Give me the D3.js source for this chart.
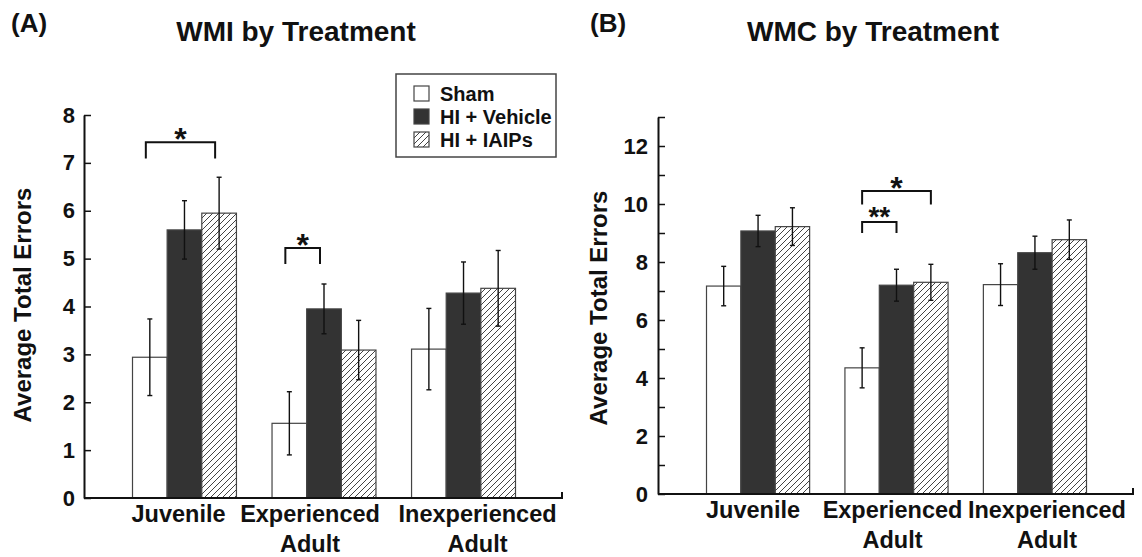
<!DOCTYPE html>
<html>
<head>
<meta charset="utf-8">
<script src="https://cdn.jsdelivr.net/npm/d3@7"></script>
<style>
    body { margin: 0; background: #fff; }
    text { font-family: "Liberation Sans", Arial, sans-serif; font-weight: bold; fill: #111; }
</style>
</head>
<body>
<svg id="chart" width="1142" height="557"></svg>
<script>
// Categories and series
const categories = ["Juvenile", "Experienced Adult", "Inexperienced Adult"];
const categoryLines = [["Juvenile"], ["Experienced", "Adult"], ["Inexperienced", "Adult"]];
const groups = ["Sham", "HI + Vehicle", "HI + IAIPs"];

// Panel A: WMI, mean and error
const wmiSham = [2.94, 1.56, 3.11];
const wmiVehicle = [5.60, 3.95, 4.28];
const wmiIAIPs = [5.95, 3.09, 4.38];
const wmiShamErr = [0.80, 0.66, 0.85];
const wmiVehicleErr = [0.61, 0.52, 0.65];
const wmiIAIPsErr = [0.75, 0.62, 0.79];
const wmiTicks = [0, 1, 2, 3, 4, 5, 6, 7, 8];
const wmiTickLabels = [0, 1, 2, 3, 4, 5, 6, 7, 8];

// Panel B: WMC
const wmcSham = [7.17, 4.35, 7.22];
const wmcVehicle = [9.07, 7.20, 8.32];
const wmcIAIPs = [9.22, 7.30, 8.77];
const wmcShamErr = [0.68, 0.69, 0.72];
const wmcVehicleErr = [0.54, 0.55, 0.57];
const wmcIAIPsErr = [0.65, 0.62, 0.68];
const wmcTicks = [0, 1, 2, 3, 4, 5, 6, 7, 8, 9, 10, 11, 12, 13];
const wmcTickLabels = [0, 2, 4, 6, 8, 10, 12];

// Significance brackets: [category, from, to, level, drop-to, label]
const wmiBrackets = [
    ["Juvenile", "Sham", "HI + IAIPs", 7.43, 7.09, "*"],
    ["Experienced Adult", "Sham", "HI + Vehicle", 5.22, 4.89, "*"]
];
const wmcBrackets = [
    ["Experienced Adult", "Sham", "HI + IAIPs", 10.45, 9.98, "*"],
    ["Experienced Adult", "Sham", "HI + Vehicle", 9.38, 9.0, "**"]
];

const svg = d3.select("#chart");

// Hatch pattern for HI + IAIPs
const defs = svg.append("defs");
const pat = defs.append("pattern")
    .attr("id", "hatch")
    .attr("patternUnits", "userSpaceOnUse")
    .attr("width", 6)
    .attr("height", 6);
pat.append("rect").attr("width", 6).attr("height", 6).attr("fill", "#fff");
pat.append("path")
    .attr("d", "M-1,1 l2,-2 M0,6 l6,-6 M5,7 l2,-2")
    .attr("stroke", "#444")
    .attr("stroke-width", 1);

const fills = ["#fff", "#333", "url(#hatch)"];

function drawPanel(opt) {
    const g = svg.append("g");

    const y = d3.scaleLinear().domain([0, opt.yMax]).range([opt.base, opt.top]);
    const x0 = d3.scaleBand().domain(categories)
        .range([opt.left + 48.5, opt.right - 46.5])
        .paddingInner(0.255).paddingOuter(0);
    const x1 = d3.scaleBand().domain(groups).range([0, x0.bandwidth()]);

    const rows = [];
    categories.forEach((c, i) => {
        groups.forEach((s, j) => {
            rows.push({ cat: c, grp: s, j: j, v: opt.means[j][i], e: opt.errs[j][i] });
        });
    });

    // bars
    g.selectAll(".bar")
        .data(rows)
        .enter()
        .append("rect")
        .attr("x", d => x0(d.cat) + x1(d.grp))
        .attr("y", d => y(d.v))
        .attr("width", x1.bandwidth())
        .attr("height", d => y(0) - y(d.v))
        .attr("fill", d => fills[d.j])
        .attr("stroke", "#444")
        .attr("stroke-width", 1.2);

    // error bars
    const eb = g.selectAll(".err")
        .data(rows)
        .enter()
        .append("g")
        .attr("transform", d => `translate(${x0(d.cat) + x1(d.grp) + x1.bandwidth() / 2},0)`);
    eb.append("line")
        .attr("y1", d => y(d.v - d.e))
        .attr("y2", d => y(d.v + d.e))
        .attr("stroke", "#111").attr("stroke-width", 1.4);
    eb.append("line")
        .attr("x1", -2.5).attr("x2", 2.5)
        .attr("y1", d => y(d.v + d.e)).attr("y2", d => y(d.v + d.e))
        .attr("stroke", "#111").attr("stroke-width", 1.4);
    eb.append("line")
        .attr("x1", -2.5).attr("x2", 2.5)
        .attr("y1", d => y(d.v - d.e)).attr("y2", d => y(d.v - d.e))
        .attr("stroke", "#111").attr("stroke-width", 1.4);

    // y axis, ticks pointing inward
    const yAxis = g.append("g")
        .attr("transform", `translate(${opt.left},0)`)
        .call(d3.axisLeft(y)
            .tickValues(opt.ticks)
            .tickSize(-7)
            .tickSizeOuter(0)
            .tickPadding(opt.tickPad)
            .tickFormat(d => opt.tickLabels.includes(d) ? d : ""));
    yAxis.select(".domain").attr("stroke", "#111").attr("stroke-width", 2);
    yAxis.selectAll(".tick line").attr("stroke", "#111").attr("stroke-width", 1.5);
    yAxis.selectAll(".tick text")
        .attr("font-size", 22)
        .attr("font-family", "Liberation Sans, Arial, sans-serif")
        .attr("font-weight", "bold")
        .attr("fill", "#111");

    // x axis line with end tick
    g.append("path")
        .attr("d", `M${opt.left},${opt.base}H${opt.right}V${opt.base - 6}`)
        .attr("fill", "none")
        .attr("stroke", "#111")
        .attr("stroke-width", 2);

    // category labels
    const lab = g.selectAll(".cat")
        .data(categories)
        .enter()
        .append("text")
        .attr("text-anchor", "middle")
        .attr("font-size", 23.5)
        .attr("transform", (d, i) => `translate(${x0(d) + x0.bandwidth() / 2 + opt.labelNudge[i]},${opt.base + 24})`);
    lab.selectAll("tspan")
        .data((d, i) => categoryLines[i])
        .enter()
        .append("tspan")
        .attr("x", 0)
        .attr("dy", (d, k) => k === 0 ? 0 : 30)
        .text(d => d);

    // y axis title
    g.append("text")
        .attr("transform", `translate(${opt.yTitleX},${opt.yTitleY}) rotate(-90)`)
        .attr("text-anchor", "middle")
        .attr("font-size", 24)
        .text("Average Total Errors");

    // panel title and letter
    g.append("text")
        .attr("x", opt.titleX).attr("y", 41)
        .attr("text-anchor", "middle")
        .attr("font-size", 28)
        .text(opt.title);
    g.append("text")
        .attr("x", opt.letterX).attr("y", 32)
        .attr("font-size", 26)
        .text(opt.letter);

    // significance brackets
    opt.brackets.forEach(b => {
        const xa = x0(b[0]) + x1(b[1]) + x1.bandwidth() / 2 + opt.bracketShift;
        const xb = x0(b[0]) + x1(b[2]) + x1.bandwidth() / 2 + opt.bracketShift;
        const dbl = b[5] === "**";
        g.append("path")
            .attr("d", `M${xa},${y(b[4])}V${y(b[3])}H${xb}V${y(b[4])}`)
            .attr("fill", "none")
            .attr("stroke", "#111")
            .attr("stroke-width", 2);
        g.append("text")
            .attr("x", (xa + xb) / 2)
            .attr("y", y(b[3]) + (dbl ? 4 : 8))
            .attr("text-anchor", "middle")
            .attr("font-size", dbl ? 28 : 32)
            .text(b[5]);
    });
}

drawPanel({
    left: 84, right: 562, base: 498, top: 115, yMax: 8,
    means: [wmiSham, wmiVehicle, wmiIAIPs],
    errs: [wmiShamErr, wmiVehicleErr, wmiIAIPsErr],
    ticks: wmiTicks, tickLabels: wmiTickLabels, tickPad: 9,
    labelNudge: [-6, -14, 14],
    yTitleX: 31, yTitleY: 305,
    title: "WMI by Treatment", titleX: 296,
    letter: "(A)", letterX: 11,
    brackets: wmiBrackets, bracketShift: -4
});

drawPanel({
    left: 658, right: 1133, base: 494, top: 117, yMax: 13,
    means: [wmcSham, wmcVehicle, wmcIAIPs],
    errs: [wmcShamErr, wmcVehicleErr, wmcIAIPsErr],
    ticks: wmcTicks, tickLabels: wmcTickLabels, tickPad: 10,
    labelNudge: [-5, -4, 12],
    yTitleX: 607, yTitleY: 308,
    title: "WMC by Treatment", titleX: 873,
    letter: "(B)", letterX: 590,
    brackets: wmcBrackets, bracketShift: 0
});

// Legend (panel A only)
const legend = svg.append("g").attr("transform", "translate(396,74)");
legend.append("rect")
    .attr("width", 160).attr("height", 83)
    .attr("fill", "#fff")
    .attr("stroke", "#444")
    .attr("stroke-width", 1.5);
const li = legend.selectAll(".li")
    .data(groups)
    .enter()
    .append("g")
    .attr("transform", (d, i) => `translate(18,${12 + i * 23})`);
li.append("rect")
    .attr("width", 15).attr("height", 15)
    .attr("fill", (d, i) => fills[i])
    .attr("stroke", "#444")
    .attr("stroke-width", 1.2);
li.append("text")
    .attr("x", 26).attr("y", 15)
    .attr("font-size", 20)
    .text(d => d);
</script>
</body>
</html>
